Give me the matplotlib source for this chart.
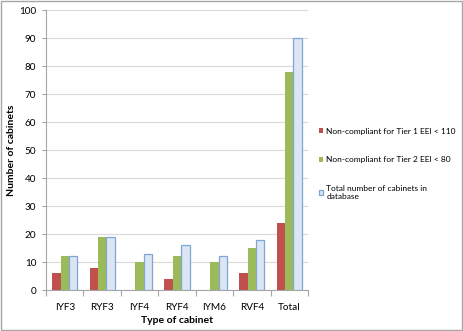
import matplotlib
matplotlib.use("Agg")
import matplotlib.pyplot as plt
import numpy as np
from matplotlib.patches import Rectangle

categories = ["IYF3", "RYF3", "IYF4", "RYF4", "IYM6", "RVF4", "Total"]
tier1 = [6, 8, 0, 4, 0, 6, 24]
tier2 = [12, 19, 10, 12, 10, 15, 78]
total = [12, 19, 13, 16, 12, 18, 90]
series_labels = ["Non-compliant for Tier 1 EEI < 110",
                 "Non-compliant for Tier 2 EEI < 80",
                 "Total number of cabinets in\ndatabase"]

plt.rcParams['font.family'] = ['Lato', 'DejaVu Sans']

fig = plt.figure(figsize=(4.63, 3.31), dpi=100)
ax = fig.add_axes([46 / 463, 1 - 290 / 331, 262 / 463, 280 / 331])

x = np.arange(len(categories))
w = 0.225
ax.bar(x - w, tier1, w, color="#C0504D", label=series_labels[0], zorder=3)
ax.bar(x, tier2, w, color="#9BBB59", label=series_labels[1], zorder=3)
ax.bar(x + w, total, w, color="#DCE6F2", edgecolor="#7EA6D8", linewidth=0.9,
       label=series_labels[2], zorder=3)

ax.set_xlim(-0.5, len(categories) - 0.5)
ax.set_ylim(0, 100)
ax.set_yticks(np.arange(0, 101, 10))
ax.yaxis.grid(True, color="#D9D9D9", linewidth=0.8, zorder=0)
ax.set_xticks(x)
ax.set_xticklabels(categories)
ax.set_xticks(np.arange(-0.5, len(categories), 1), minor=True)
ax.tick_params(axis='x', which='major', length=0, labelsize=7.2, pad=9)
ax.tick_params(axis='x', which='minor', length=4, color="#A6A6A6", width=0.8)
ax.tick_params(axis='y', length=3, color="#A6A6A6", labelsize=7.2, pad=4)

for side in ["top", "right"]:
    ax.spines[side].set_visible(False)
for side in ["left", "bottom"]:
    ax.spines[side].set_color("#A6A6A6")
    ax.spines[side].set_linewidth(0.8)

ax.set_xlabel("Type of cabinet", fontsize=7.5, fontweight="bold", labelpad=3)
ax.set_ylabel("Number of cabinets", fontsize=7.5, fontweight="bold")
ax.yaxis.set_label_coords(-30 / 262, 0.5)

leg = fig.legend(loc="center left", bbox_to_anchor=(311 / 463, 1 - 164 / 331),
                 frameon=False, fontsize=6.0, handlelength=0.55, handleheight=0.55,
                 handletextpad=0.4, labelspacing=2.6)

fig.patches.append(Rectangle((0.002, 0.003), 0.995, 0.994, transform=fig.transFigure,
                             fill=False, edgecolor="#A6A6A6", linewidth=1.0))

fig.savefig("out.png", dpi=100)
